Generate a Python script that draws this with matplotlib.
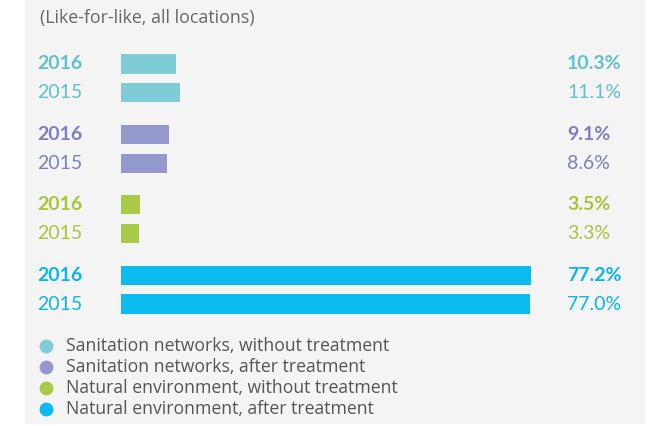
import matplotlib.pyplot as plt
from matplotlib.patches import Rectangle
from matplotlib.transforms import blended_transform_factory

categories = ["Sanitation networks, without treatment",
              "Sanitation networks, after treatment",
              "Natural environment, without treatment",
              "Natural environment, after treatment"]
years = ["2016", "2015"]
values_2016 = [10.3, 9.1, 3.5, 77.2]
values_2015 = [11.1, 8.6, 3.3, 77.0]

bar_colors = ["#80ccd6", "#9499cd", "#a9c947", "#0bbaef"]
text_colors = ["#5fc1cd", "#7b7fc0", "#a6c53c", "#0bb6ec"]

W, H = 649, 426
fig = plt.figure(figsize=(W / 100, H / 100), dpi=100)
fig.patch.set_facecolor("white")

# light grey panel behind everything
bg = fig.add_axes([0, 0, 1, 1])
bg.set_xlim(0, W)
bg.set_ylim(H, 0)
bg.axis("off")
bg.add_patch(Rectangle((25, -5), 620, 429, facecolor="#f4f4f4", edgecolor="none"))

fig.text(40 / W, 1 - 18 / H, "(Like-for-like, all locations)", fontsize=12.8,
         color="#666666", family="Open Sans", va="center", ha="left")

# bar area
group_gap = 2.43
unit = 29.0
positions = []
for g in range(4):
    positions.append(g * group_gap)
    positions.append(g * group_gap + 1)
span = positions[-1]
top_px, bot_px = 64, 304
pad = 0.6
ax_top = top_px - pad * unit
ax_bot = bot_px + pad * unit
xmax = 80
ax_left = 121
ax_width = 410 * xmax / 77.2
ax = fig.add_axes([ax_left / W, 1 - ax_bot / H, ax_width / W, (ax_bot - ax_top) / H])
ax.set_xlim(0, xmax)
ax.set_ylim(span + pad, -pad)
ax.axis("off")

trans = blended_transform_factory(fig.transFigure, ax.transData)
for g in range(4):
    for j, vals in enumerate([values_2016, values_2015]):
        y = positions[g * 2 + j]
        v = vals[g]
        ax.barh(y, v, height=0.66, color=bar_colors[g], edgecolor="none")
        weight = "bold" if j == 0 else "normal"
        ax.text(37 / W, y, years[j], transform=trans, fontsize=14, color=text_colors[g],
                family="Lato", fontweight=weight, va="center", ha="left")
        ax.text(567 / W, y, f"{v:.1f}%", transform=trans, fontsize=14, color=text_colors[g],
                family="Lato", fontweight=weight, va="center", ha="left")

# legend
legend_y = [346, 367, 388, 409]
for label, color, y in zip(categories, bar_colors, legend_y):
    bg.plot(46, y, marker="o", markersize=10, color=color, markeredgecolor="none")
    bg.text(66, y, label, fontsize=12.7, color="#555555", family="Open Sans",
            va="center", ha="left")

fig.savefig("out.png", dpi=100)
